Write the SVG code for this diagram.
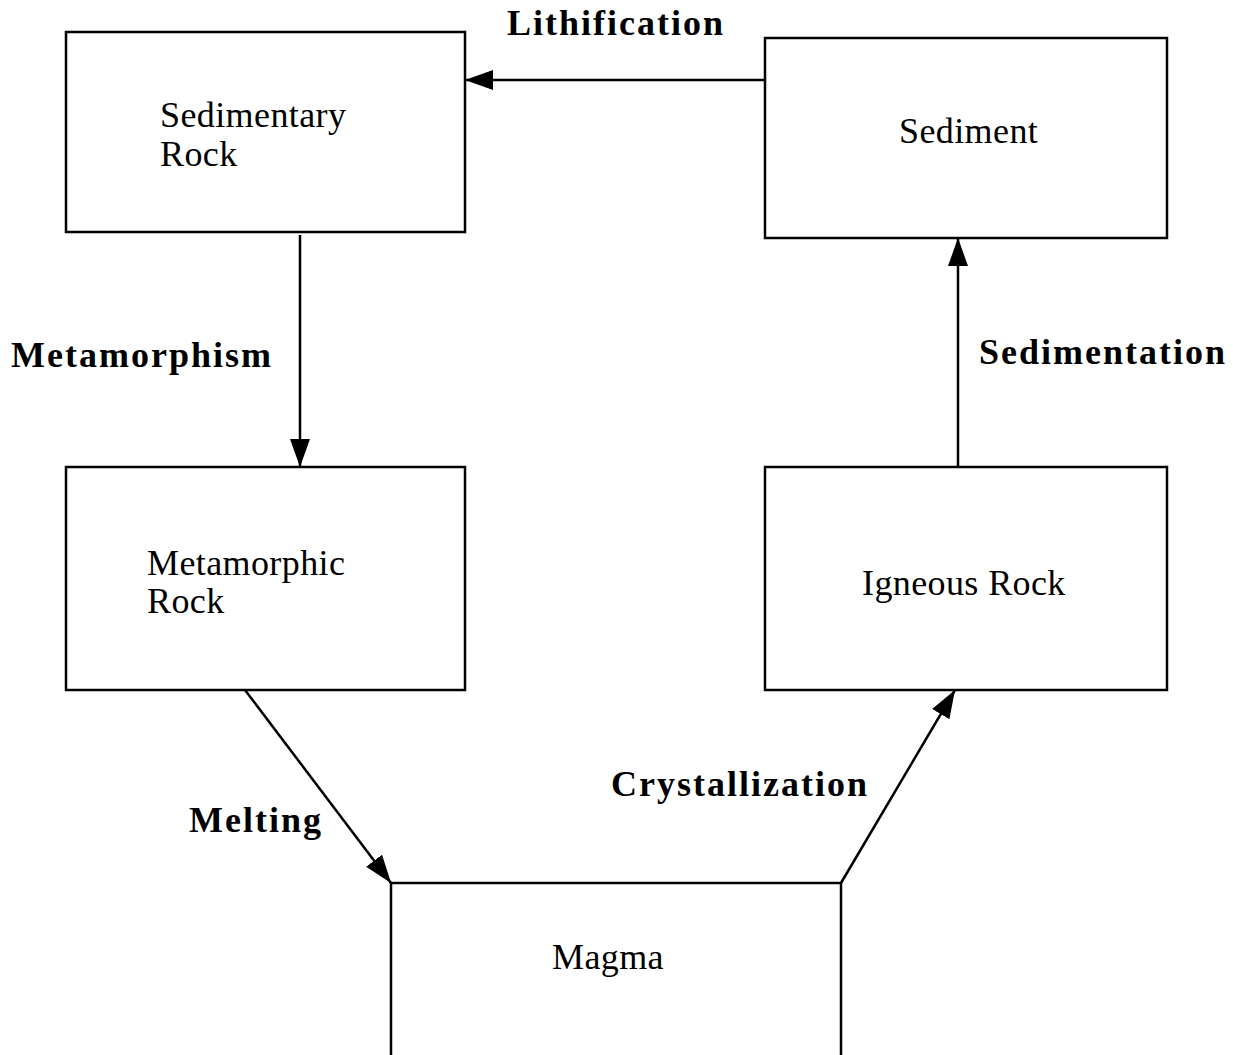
<svg xmlns="http://www.w3.org/2000/svg" width="1233" height="1055" viewBox="0 0 1233 1055">
<style>
.box{fill:#fff;stroke:#000;stroke-width:2.5}
.lbl{font-family:"Liberation Serif","Times New Roman",serif;font-size:36px;letter-spacing:0.4px;fill:#000}
.edge{font-family:"Liberation Serif","Times New Roman",serif;font-size:36px;font-weight:bold;letter-spacing:2px;fill:#000}
.conn{stroke:#000;stroke-width:2.5;fill:none;marker-end:url(#ah)}
</style>
<defs>
<marker id="ah" markerUnits="userSpaceOnUse" markerWidth="28" markerHeight="20" refX="28" refY="10" orient="auto">
<path d="M0,0 L28,10 L0,20 Z" fill="#000"/>
</marker>
</defs>
<rect width="1233" height="1055" fill="#fff"/>
<g id="sedimentary-rock">
<rect class="box" x="66" y="32" width="399" height="200"/>
<text class="lbl" x="160" y="127">Sedimentary</text>
<text class="lbl" x="160" y="166">Rock</text>
</g>
<g id="sediment">
<rect class="box" x="765" y="38" width="402" height="200"/>
<text class="lbl" x="899" y="143">Sediment</text>
</g>
<g id="metamorphic-rock">
<rect class="box" x="66" y="467" width="399" height="223"/>
<text class="lbl" x="147" y="575">Metamorphic</text>
<text class="lbl" x="147" y="613">Rock</text>
</g>
<g id="igneous-rock">
<rect class="box" x="765" y="467" width="402" height="223"/>
<text class="lbl" x="862" y="595">Igneous Rock</text>
</g>
<g id="magma">
<rect class="box" x="391" y="883" width="450" height="190"/>
<text class="lbl" x="552" y="969">Magma</text>
</g>
<g id="connectors">
<line class="conn" x1="765" y1="80" x2="465" y2="80"/>
<line class="conn" x1="300" y1="235" x2="300" y2="467"/>
<line class="conn" x1="245" y1="690" x2="391" y2="883"/>
<line class="conn" x1="841" y1="883" x2="955" y2="690"/>
<line class="conn" x1="958" y1="467" x2="958" y2="238"/>
<text class="edge" x="507" y="35">Lithification</text>
<text class="edge" x="11" y="367">Metamorphism</text>
<text class="edge" x="979" y="364">Sedimentation</text>
<text class="edge" x="189" y="832">Melting</text>
<text class="edge" x="611" y="796">Crystallization</text>
</g>
</svg>
